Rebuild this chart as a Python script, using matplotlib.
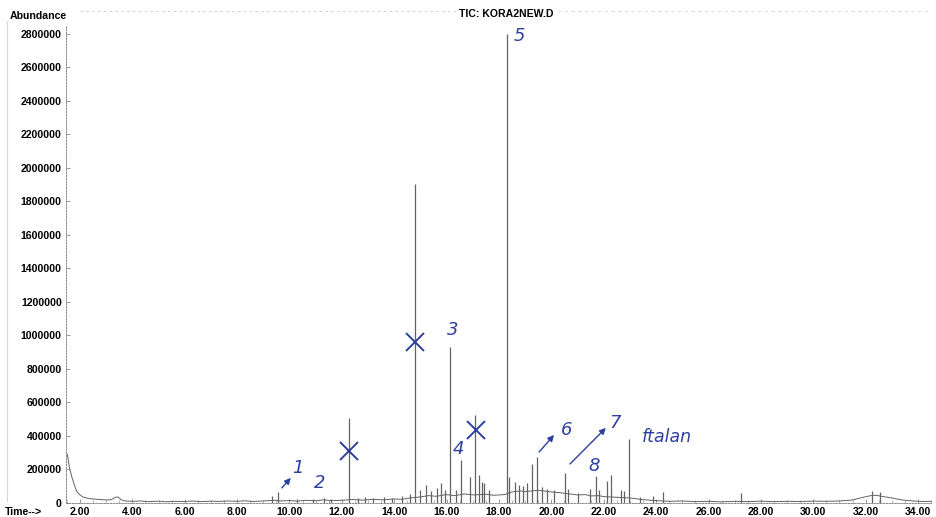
import matplotlib
matplotlib.use("Agg")
import matplotlib.pyplot as plt
from matplotlib.lines import Line2D

# ---- data -------------------------------------------------------------
# baseline of the total ion chromatogram (time in min, abundance)
base_t = [1.52, 1.60, 1.69, 1.80, 1.89, 2.00, 2.11, 2.30, 2.50, 2.80, 3.03, 3.20,
          3.35, 3.45, 3.55, 3.70, 4.00, 4.30, 4.60, 5.00, 5.30, 5.60, 6.00, 6.30,
          6.60, 7.00, 7.30, 7.60, 8.00, 8.30, 8.60, 9.00, 9.20, 9.45, 9.70, 10.00,
          10.30, 10.60, 11.00, 11.30, 11.60, 12.00, 12.40, 12.80, 13.20, 13.60,
          14.00, 14.30, 14.60, 15.00, 15.30, 15.60, 16.00, 16.30, 16.70, 17.00,
          17.50, 17.80, 18.20, 18.50, 18.80, 19.00, 19.50, 19.80, 20.00, 20.30,
          20.50, 20.80, 21.00, 21.30, 21.50, 21.80, 22.00, 22.50, 23.00, 23.20,
          23.50, 23.80, 24.00, 24.50, 25.00, 25.50, 26.00, 26.50, 27.00, 27.50,
          28.00, 28.50, 29.00, 29.50, 30.00, 30.50, 31.00, 31.50, 31.90, 32.20,
          32.40, 32.60, 33.00, 33.40, 33.80, 34.20, 34.50]
base_y = [290000, 210000, 155000, 100000, 66000, 48000, 36000, 28000, 24000, 20000,
          18000, 20000, 34000, 36000, 22000, 12000, 10000, 12000, 8000, 11000, 7000,
          10000, 9000, 12000, 8000, 11000, 9000, 12000, 10000, 13000, 9000, 12000,
          14000, 16000, 12000, 15000, 11000, 16000, 13000, 19000, 14000, 16000, 21000,
          17000, 22000, 19000, 24000, 22000, 30000, 36000, 44000, 40000, 50000, 44000,
          54000, 48000, 52000, 46000, 50000, 66000, 72000, 68000, 76000, 70000, 66000,
          62000, 58000, 52000, 48000, 50000, 42000, 44000, 38000, 34000, 30000, 26000,
          20000, 16000, 14000, 10000, 12000, 8000, 10000, 7000, 10000, 8000, 11000,
          8000, 10000, 9000, 11000, 10000, 12000, 18000, 34000, 44000, 46000, 40000,
          30000, 18000, 12000, 9000, 10000]

# resolved peaks (retention time, apex abundance)
peak_t = [9.33, 9.56, 10.30, 10.90, 11.30, 11.60, 12.27, 12.60, 12.90, 13.20, 13.60,
          13.90, 14.30, 14.60, 14.79, 15.00, 15.20, 15.40, 15.63, 15.80, 15.95, 16.13,
          16.35, 16.55, 16.90, 17.10, 17.23, 17.35, 17.43, 17.60, 18.30, 18.39, 18.60,
          18.76, 18.92, 19.07, 19.26, 19.45, 19.64, 19.83, 20.10, 20.52, 20.63, 21.00,
          21.47, 21.70, 21.82, 22.12, 22.27, 22.66, 22.77, 22.96, 23.40, 23.88, 24.26,
          27.24, 32.24, 32.55]
peak_h = [42000, 66000, 25000, 22000, 30000, 26000, 507000, 30000, 35000, 30000, 38000,
          32000, 40000, 55000, 1904000, 75000, 107000, 70000, 90000, 119000, 80000,
          931000, 75000, 257000, 155000, 525000, 167000, 125000, 120000, 80000,
          2800000, 155000, 125000, 107000, 101000, 119000, 233000, 275000, 95000,
          84000, 80000, 179000, 84000, 60000, 84000, 161000, 78000, 131000, 167000,
          78000, 72000, 382000, 36000, 42000, 66000, 60000, 72000, 66000]

y_ticks = [0, 200000, 400000, 600000, 800000, 1000000, 1200000, 1400000, 1600000,
           1800000, 2000000, 2200000, 2400000, 2600000, 2800000]
x_ticks = [2, 4, 6, 8, 10, 12, 14, 16, 18, 20, 22, 24, 26, 28, 30, 32, 34]

# hand-written peak numbers (time, abundance, label)
notes = [(10.32, 209000, "1"), (11.16, 119000, "2"), (16.22, 1030000, "3"),
         (16.45, 325000, "4"), (18.78, 2790000, "5"), (20.58, 436000, "6"),
         (22.45, 478000, "7"), (21.63, 221000, "8"), (23.46, 394000, "ftalan")]
crosses = [(12.27, 310000), (14.79, 961000), (17.12, 436000)]
arrows = [((9.71, 90000), (10.05, 150000)),
          ((19.53, 304000), (20.10, 406000)),
          ((20.71, 233000), (22.08, 448000))]

# ---- figure -----------------------------------------------------------
plt.rcParams["font.family"] = ["Liberation Sans", "DejaVu Sans"]
fig = plt.figure(figsize=(9.37, 5.17), dpi=100)
ax = fig.add_axes([0.0704, 0.0271, 0.9242, 0.9234])

trace = "#626262"
ax.plot(base_t, base_y, color=trace, lw=0.7)
ax.vlines(peak_t, 0, peak_h, color=trace, lw=0.9)

ax.set_xlim(1.465, 34.53)
ax.set_ylim(0, 2850000)
ax.set_yticks(y_ticks)
ax.set_yticklabels([str(v) for v in y_ticks], fontsize=7.6, fontweight="bold")
ax.set_xticks(x_ticks)
ax.set_xticklabels(["%.2f" % v for v in x_ticks], fontsize=7.6, fontweight="bold")
ax.set_xticks([v / 2 for v in range(3, 70)], minor=True)
ax.tick_params(axis="both", which="major", direction="in", length=3, width=0.6,
               color="#888888", pad=3)
ax.tick_params(axis="x", which="minor", direction="in", length=2, width=0.5,
               color="#999999")
for side in ("top", "right"):
    ax.spines[side].set_visible(False)
for side in ("left", "bottom"):
    ax.spines[side].set_color("#8a8a8a")
    ax.spines[side].set_linewidth(0.7)
    ax.spines[side].set_linestyle((0, (1.5, 1.5)))

fig.text(67 / 937, 1 - 16 / 517, "Abundance", ha="right", va="center",
         fontsize=7.6, fontweight="bold")
fig.text(5 / 937, 1 - 512 / 517, "Time-->", ha="left", va="center",
         fontsize=7.6, fontweight="bold")
fig.text(506 / 937, 1 - 14 / 517, "TIC: KORA2NEW.D", ha="center", va="center",
         fontsize=7.6, fontweight="bold")

# faint scanner marks along the header and the left edge
fig.add_artist(Line2D([80 / 937, 455 / 937], [1 - 11 / 517] * 2, color="#c8c8c8",
                      lw=0.6, ls=(0, (3, 4))))
fig.add_artist(Line2D([558 / 937, 930 / 937], [1 - 11 / 517] * 2, color="#d0d0d0",
                      lw=0.6, ls=(0, (3, 5))))
fig.add_artist(Line2D([7 / 937] * 2, [0.03, 0.96], color="#d8d8d8", lw=0.8))

# blue ink annotations
ink = "#2c3f9e"
for t, v, s in notes:
    ax.text(t, v, s, color=ink, fontsize=13 if len(s) == 1 else 12.5,
            family="DejaVu Sans", style="italic", ha="left" if len(s) > 1 else "center",
            va="center", clip_on=False)
for t, v in crosses:
    ax.plot(t, v, marker="x", ms=13, mew=1.4, color=ink, clip_on=False)
for (t0, v0), (t1, v1) in arrows:
    ax.annotate("", xy=(t1, v1), xytext=(t0, v0),
                arrowprops=dict(arrowstyle="-|>", color=ink, lw=1.0,
                                mutation_scale=9, shrinkA=0, shrinkB=0))

fig.savefig("out.png", dpi=100, facecolor="white")
